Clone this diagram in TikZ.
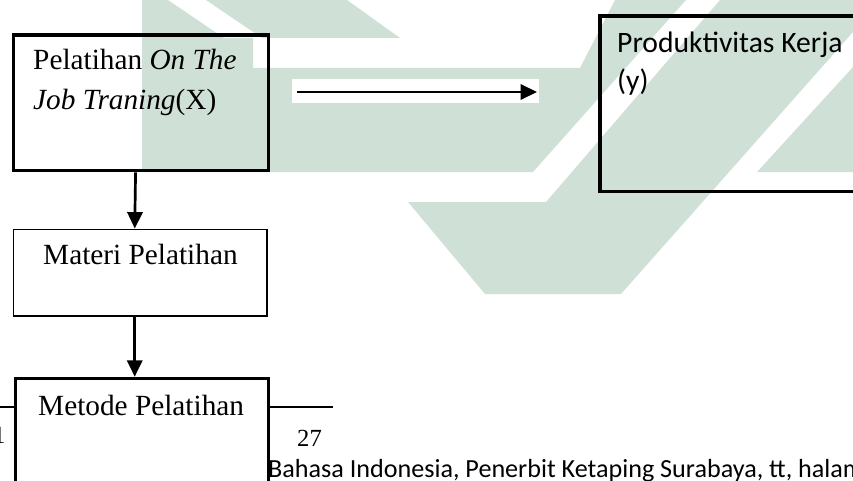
\documentclass[tikz,border=0pt]{standalone}
\usepackage{fontspec}
\setmainfont{Liberation Serif}
\newfontfamily\calibri{Carlito}
\usetikzlibrary{arrows.meta}

\definecolor{wmark}{RGB}{207,224,215}

\tikzset{
  box/.style={draw, rectangle, anchor=north west, inner sep=0pt},
  txt/.style={anchor=base west, inner sep=0pt},
  arr/.style={-{Triangle[length=14pt, width=13pt]}, line width=2.3pt},
}

\begin{document}
\begin{tikzpicture}[x=0.03cm, y=-0.03cm]

  \useasboundingbox (0,0) rectangle (853,480);
  \clip (0,0) rectangle (853,480);

  % watermark in the background
  \fill[wmark] (142,0) -- (168,0) -- (224,38) -- (253,38) -- (253,68) -- (580,68)
    -- (615,0) -- (686,0) -- (533,172) -- (142,172) -- cycle;
  \fill[wmark] (206,0) -- (347,0) -- (400,38) -- (262,38) -- cycle;
  \fill[wmark] (408,202) -- (546,202) -- (720,0) -- (853,0) -- (853,32)
    -- (621,294) -- (485,294) -- cycle;
  \fill[wmark] (757,172) -- (853,172) -- (853,67) -- cycle;

  % boxes
  \node[box, line width=2.8pt, minimum width=255*0.03cm, minimum height=135.7*0.03cm] (job) at (11.7,33.3) {};
  \node[box, line width=2.8pt, minimum width=300*0.03cm, minimum height=175.7*0.03cm] (prod) at (598.3,14.3) {};
  \node[box, line width=1.3pt, fill=white, minimum width=253.5*0.03cm, minimum height=86.5*0.03cm] (materi) at (12.5,228.5) {};
  \draw[line width=1.7pt] (-5,407) -- (333,407);
  \node[box, line width=2.8pt, fill=white, minimum width=253*0.03cm, minimum height=200*0.03cm] (metode) at (13.7,376.7) {};

  % texts
  \node[txt, font=\fontsize{25}{30}\selectfont] (joba) at (33,70) {Pelatihan \textit{On The}};
  \node[txt, font=\fontsize{25}{30}\selectfont] (jobb) at (33,110) {\textit{Job Traning}(X)};
  \node[txt, font=\calibri\fontsize{25.3}{30}\selectfont] (proda) at (617,53) {Produktivitas Kerja};
  \node[txt, font=\calibri\fontsize{25.3}{30}\selectfont] (prodb) at (617,91) {(y)};
  \node[txt, font=\fontsize{25}{30}\selectfont] (materitxt) at (43,264) {Materi Pelatihan};
  \node[txt, font=\fontsize{25}{30}\selectfont] (metodetxt) at (38,415) {Metode Pelatihan};

  % footnote
  \node[txt, font=\fontsize{21}{25}\selectfont] (fna) at (-7,443) {1};
  \node[txt, font=\fontsize{21}{25}\selectfont] (fnb) at (297,446) {27};
  \node[txt, font=\calibri\fontsize{22.3}{25}\selectfont] (fnc) at (268,477)
    {Bahasa Indonesia, Penerbit Ketaping Surabaya, tt, halaman};

  % arrows
  \coordinate (a1) at (297,92);
  \coordinate (a2) at (537,92);
  \fill[white] (292,79) rectangle (539,103);
  \draw[arr] (a1) -- (a2);
  \draw[arr] ([xshift=-4.5pt]job.south) -- ([xshift=-4.5pt]materi.north);
  \draw[arr] ([xshift=-4.5pt]materi.south) -- ([xshift=-4.5pt]materi.south |- metode.north);

\end{tikzpicture}
\end{document}
